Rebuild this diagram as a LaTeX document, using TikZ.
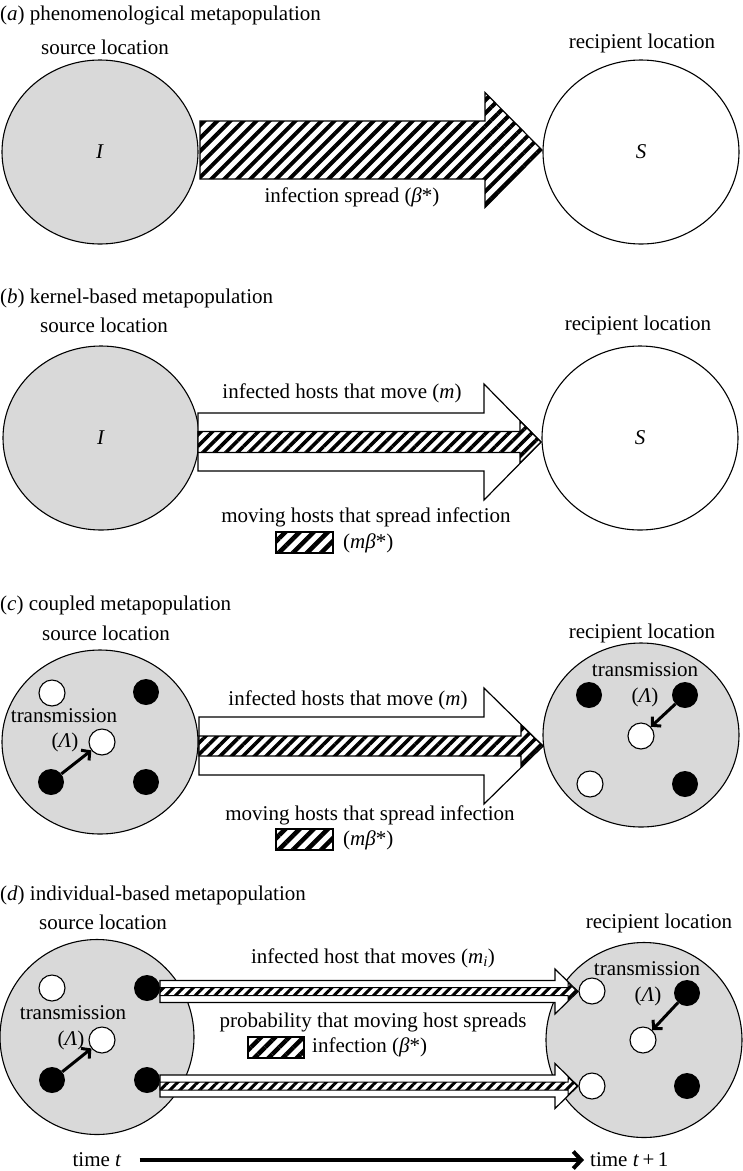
\documentclass[tikz,border=0pt]{standalone}
\usepackage{fontspec}
\setmainfont{Liberation Serif}
\usetikzlibrary{shapes.geometric,patterns.meta,arrows.meta}
\newcommand\blockarr[7]{% #1 style, #2 x0, #3 head base, #4 tip, #5 y centre, #6 body half, #7 head half
  \path[#1] (#2,{#5-#6}) -- (#3,{#5-#6}) -- (#3,{#5-#7}) -- (#4,#5) -- (#3,{#5+#7}) -- (#3,{#5+#6}) -- (#2,{#5+#6}) -- cycle;}
\begin{document}
\begin{tikzpicture}[x=1pt,y=-1pt,
  every node/.style={font=\fontsize{21}{25}\selectfont, inner sep=0pt},
  loc/.style={ellipse, draw, line width=1.1pt, minimum width=196pt, minimum height=184pt},
  srcloc/.style={loc, fill=black!15},
  recloc/.style={loc, fill=white},
  wdot/.style={circle, draw, line width=1.1pt, fill=white, minimum size=26pt},
  bdot/.style={circle, fill=black, minimum size=26pt},
  tx/.style={line width=3pt, -{Straight Barb[length=6pt,width=13pt]}},
  timearr/.style={line width=4pt, -{Straight Barb[length=8pt,width=17pt]}, shorten <=18pt, shorten >=6pt},
  blk/.style={draw, line width=1.2pt, fill=white, line join=miter},
  hatchA/.style={draw, line width=1.2pt, line join=miter, preaction={fill=white}, pattern={Lines[angle=45,distance=9.2pt,line width=4pt]}},
  hatchB/.style={draw, line width=1.2pt, line join=miter, preaction={fill=white}, pattern={Lines[angle=45,distance=8.1pt,line width=3.6pt]}},
  hatchD/.style={draw, line width=1pt, line join=miter, preaction={fill=white}, pattern={Lines[angle=45,distance=7pt,line width=3pt]}},
  legendbox/.style={draw, line width=1.2pt, minimum width=57pt, minimum height=21pt, preaction={fill=white}, pattern={Lines[angle=45,distance=10pt,line width=4.5pt]}}
]
\useasboundingbox (0,0) rectangle (743,1171);

% ---------------- (a) ----------------
\node[anchor=west] (ta) at (0,15) {(\textit{a}) phenomenological metapopulation};
\node (sla) at (105,47) {source location};
\node (rla) at (642,43) {recipient location};
\node[srcloc] (La) at (100,152) {\textit{I}};
\node[recloc] (Ra) at (641,152) {\textit{S}};
\blockarr{hatchA}{200}{485}{542}{150}{29}{57.5}
\node (spa) at (352,197) {infection spread (\textit{β}*)};

% ---------------- (b) ----------------
\node[anchor=west] (tb) at (0,298) {(\textit{b}) kernel-based metapopulation};
\node (slb) at (104,325) {source location};
\node (rlb) at (638,325) {recipient location};
\node[srcloc] (Lb) at (101,438) {\textit{I}};
\node[recloc] (Rb) at (640,438) {\textit{S}};
\blockarr{blk}{198}{484}{541}{442}{29}{58}
\blockarr{hatchB}{198}{520}{541}{442}{10.5}{21}
\node (mvb) at (342,393) {infected hosts that move (\textit{m})};
\node (spb) at (366,517) {moving hosts that spread infection};
\node[legendbox] (lgb) at (304.5,542.5) {};
\node[anchor=west] (lbb) at (343,543) {(\textit{mβ}*)};

% ---------------- (c) ----------------
\node[anchor=west] (tc) at (0,605) {(\textit{c}) coupled metapopulation};
\node (slc) at (106,633) {source location};
\node (rlc) at (642,633) {recipient location};
\node[srcloc] (Lc) at (100,742) {};
\node[srcloc] (Rc) at (641,735) {};
\blockarr{blk}{199}{484}{543}{746}{29}{58}
\blockarr{hatchB}{199}{521}{543}{746}{10}{21}
\node (mvc) at (348,700) {infected hosts that move (\textit{m})};
\node (spc) at (370,815) {moving hosts that spread infection};
\node[legendbox] (lgc) at (304.5,839.5) {};
\node[anchor=west] (lbc) at (343,840) {(\textit{mβ}*)};
% source dots
\node[wdot] (c1) at (52,693) {};
\node[bdot] (c2) at (146,692) {};
\node[wdot] (c3) at (102,742) {};
\node[bdot] (c4) at (51,782) {};
\node[bdot] (c5) at (146,782) {};
\node (ctl) at (64,716) {transmission};
\node (cla) at (65,742) {(\textit{Λ})};
\draw[tx] (c4) -- (c3);
% recipient dots
\node[bdot] (c6) at (589,695) {};
\node[bdot] (c7) at (685,695) {};
\node[wdot] (c8) at (641,736) {};
\node[wdot] (c9) at (590,784) {};
\node[bdot] (c10) at (685,784) {};
\node (ctr) at (645,670) {transmission};
\node (clr) at (645,697) {(\textit{Λ})};
\draw[tx] (c7) -- (c8);

% ---------------- (d) ----------------
\node[anchor=west] (td) at (0,895) {(\textit{d}) individual-based metapopulation};
\node (sld) at (103,922) {source location};
\node (rld) at (659,923) {recipient location};
\node[srcloc, minimum width=194pt, minimum height=195pt] (Ld) at (97,1037) {};
\node[srcloc, minimum width=196pt, minimum height=195pt] (Rd) at (644,1040) {};
\blockarr{blk}{160}{555}{578}{991.5}{11}{22.5}
\blockarr{hatchD}{160}{568}{577}{991.5}{4}{9}
\blockarr{blk}{160}{555}{578}{1086}{11}{22.5}
\blockarr{hatchD}{160}{568}{577}{1086}{4}{9}
\node (mvd) at (373,958) {infected host that moves (\textit{m}\textsubscript{\textit{i}})};
\node (spd) at (373,1022) {probability that moving host spreads};
\node[legendbox, minimum width=56pt] (lgd) at (276,1047.5) {};
\node[anchor=west] (lbd) at (312,1047) {infection (\textit{β}*)};
% source dots
\node[wdot] (d1) at (52,988) {};
\node[bdot] (d2) at (147,988) {};
\node[wdot] (d3) at (102,1040) {};
\node[bdot] (d4) at (52,1080) {};
\node[bdot] (d5) at (147,1080) {};
\node (dtl) at (73,1013) {transmission};
\node (dla) at (71,1040) {(\textit{Λ})};
\draw[tx] (d4) -- (d3);
% recipient dots
\node[wdot] (d6) at (592,991) {};
\node[bdot] (d7) at (687,993) {};
\node[wdot] (d8) at (643,1040) {};
\node[wdot] (d9) at (592,1086) {};
\node[bdot] (d10) at (687,1086) {};
\node (dtr) at (647,969) {transmission};
\node (dlr) at (648,996) {(\textit{Λ})};
\draw[tx] (d7) -- (d8);
% time arrow
\node (t0) at (97,1160) {time \textit{t}};
\node[anchor=west] (t1) at (590,1160) {time \textit{t}\,+\,1};
\draw[timearr] (t0) -- (t1);
\end{tikzpicture}
\end{document}
